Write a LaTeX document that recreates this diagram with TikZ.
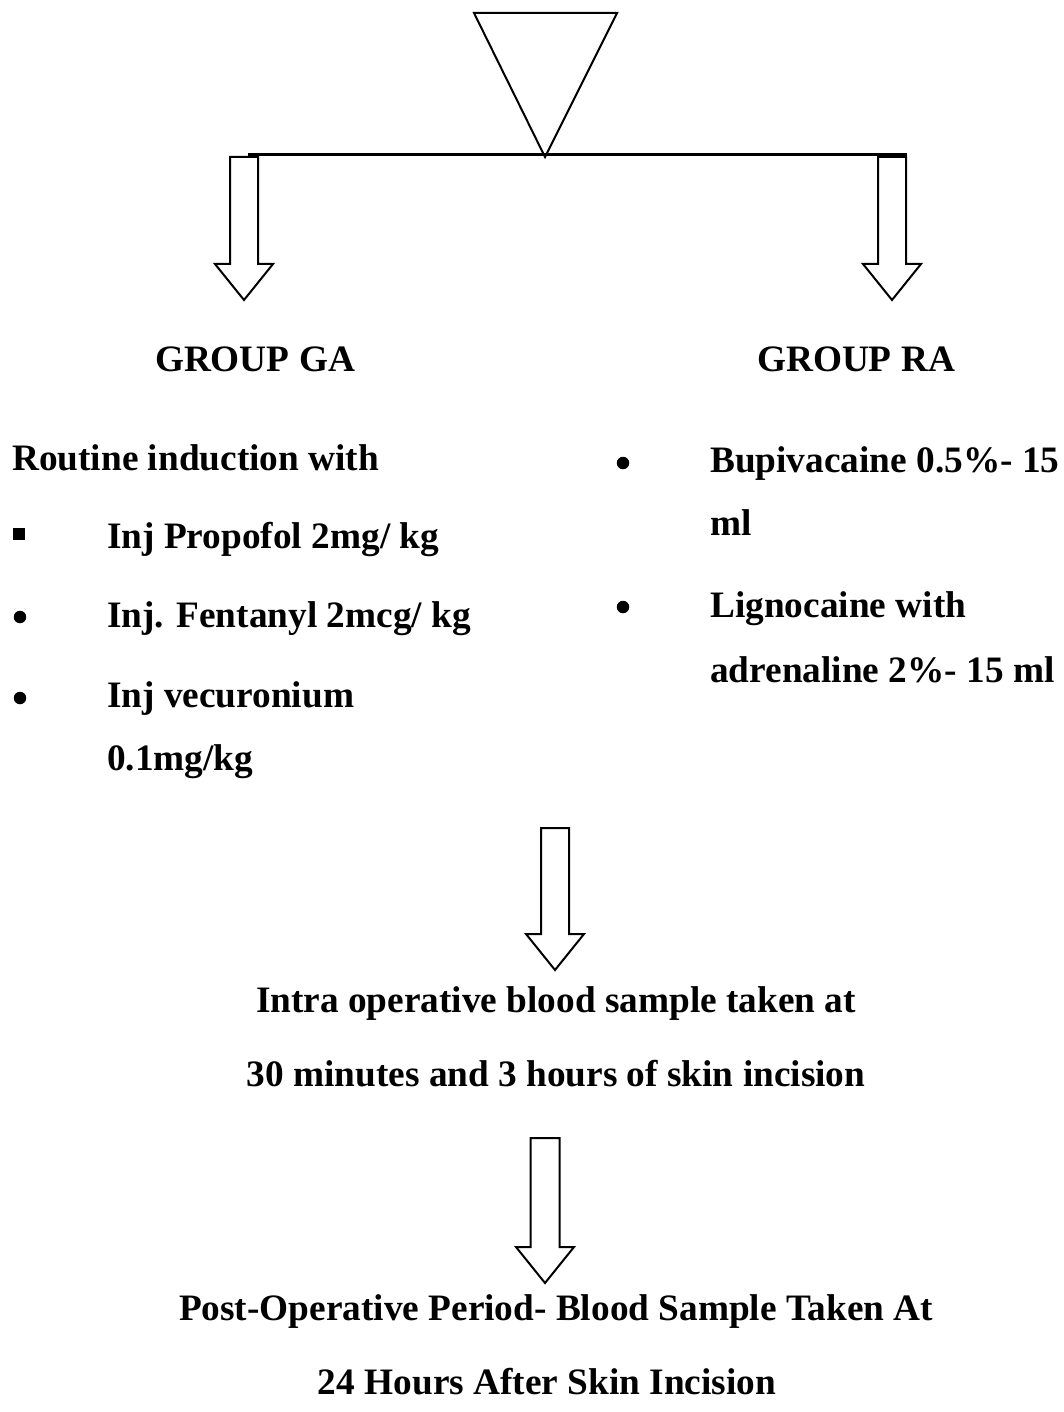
\documentclass[tikz,border=0pt]{standalone}
\usepackage{fontspec}
\setmainfont{Liberation Serif}
\begin{document}
\begin{tikzpicture}[x=1pt,y=-1pt,
  txt/.style={inner sep=0pt,font=\fontsize{37.3}{44}\selectfont\bfseries},
  barrowstyle/.style={draw=black,line width=2pt,fill=white,line join=miter},
  dot/.style={circle,fill=black,inner sep=0pt,minimum size=12.5pt},
  sq/.style={rectangle,fill=black,inner sep=0pt,minimum size=11.5pt}]
\useasboundingbox (0,0) rectangle (1063,1412);
% block arrow: cx, shaft half width, head half width, top, head base, tip
\newcommand\mybarrow[6]{%
  \draw[barrowstyle] (#1-#2,#4) -- (#1+#2,#4) -- (#1+#2,#5) -- (#1+#3,#5)
     -- (#1,#6) -- (#1-#3,#5) -- (#1-#2,#5) -- cycle;}
% top triangle
\draw[line width=2pt,line join=miter] (474,13) coordinate (tl) -- (617,13) coordinate (tr) -- (545,157) coordinate (apex) -- cycle;
% horizontal bar
\coordinate (barL) at (248,155);
\coordinate (barR) at (907,155);
\draw[line width=3pt] (barL) -- (barR);
% side arrows
\mybarrow{244}{14}{29}{157}{264}{300}
\mybarrow{892}{14}{29}{157}{264}{300}
% group titles
\node[txt,anchor=base] (ga) at (255,371) {GROUP GA};
\node[txt,anchor=base] (ra) at (856,371) {GROUP RA};
% left list
\node[txt,anchor=base west] (ri) at (12,470) {Routine induction with};
\node[sq] (b1) at (19,534) {};
\node[txt,anchor=base west] (l1) at (107,548) {Inj Propofol 2mg/ kg};
\node[dot] (b2) at (20,617) {};
\node[txt,anchor=base west] (l2) at (107,627) {Inj. Fentanyl 2mcg/ kg};
\node[dot] (b3) at (20,698) {};
\node[txt,anchor=base west] (l3) at (107,707) {Inj vecuronium};
\node[txt,anchor=base west] (l3b) at (107,770) {0.1mg/kg};
% right list
\node[dot] (r1b) at (623,463) {};
\node[txt,anchor=base west] (r1) at (710,472) {Bupivacaine 0.5\%- 15};
\node[txt,anchor=base west] (r1c) at (710,535) {ml};
\node[dot] (r2b) at (623,607) {};
\node[txt,anchor=base west] (r2) at (710,617) {Lignocaine with};
\node[txt,anchor=base west] (r2c) at (710,682) {adrenaline 2\%- 15 ml};
% middle arrow 1
\mybarrow{555}{14}{29}{828}{934}{970}
\node[txt,anchor=base] (io1) at (556,1012) {Intra operative blood sample taken at};
\node[txt,anchor=base] (io2) at (556,1086) {30 minutes and 3 hours of skin incision};
% middle arrow 2
\mybarrow{545}{14.5}{29}{1138}{1247}{1283}
\node[txt,anchor=base] (po1) at (556,1320) {Post-Operative Period- Blood Sample Taken At};
\node[txt,anchor=base] (po2) at (547,1394) {24 Hours After Skin Incision};
\end{tikzpicture}
\end{document}
